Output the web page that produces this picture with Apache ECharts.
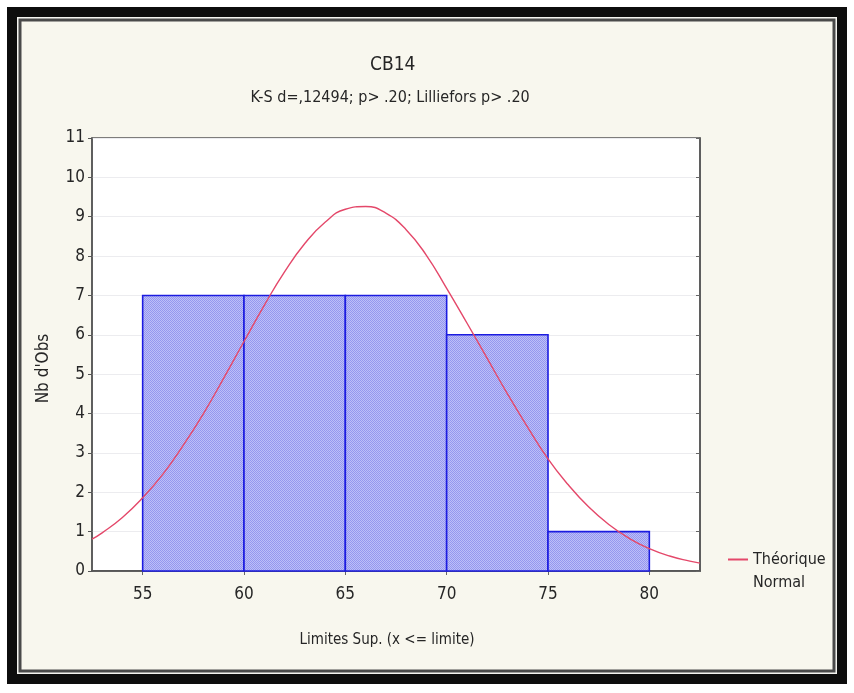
<!DOCTYPE html>
<html>
<head>
<meta charset="utf-8">
<script src="https://cdn.jsdelivr.net/npm/echarts@6/dist/echarts.min.js"></script>
<style>
  html, body { margin: 0; padding: 0; background: #ffffff; }
  #chart { width: 854px; height: 693px; }
</style>
</head>
<body>
<div id="chart"></div>
<script>
// Histogram bins (lower limit, upper limit) and observed counts
const binLower = [55, 60, 65, 70, 75];
const binUpper = [60, 65, 70, 75, 80];
const counts = [7, 7, 7, 6, 1];

// Fitted normal curve (expected count per class)
const curveX = [52.5, 53, 54, 55, 56, 57, 58, 59, 60, 61, 62, 63, 64, 65, 66, 67, 68, 69, 70, 71, 72, 73, 74, 75, 76, 77, 78, 79, 80, 81, 82, 82.5];
const curveY = [0.81, 0.97, 1.36, 1.86, 2.46, 3.19, 4.00, 4.90, 5.83, 6.75, 7.60, 8.32, 8.86, 9.19, 9.26, 9.09, 8.67, 8.02, 7.18, 6.30, 5.40, 4.50, 3.65, 2.85, 2.19, 1.63, 1.18, 0.83, 0.57, 0.38, 0.25, 0.20];

// Axis ticks
const xTicks = [55, 60, 65, 70, 75, 80];
const xMin = 52.5, xMax = 82.5;
const yMax = 11;

const FONT = "'Liberation Sans Narrow', 'DejaVu Sans Condensed', 'Liberation Sans', sans-serif";
const TEXT = '#262626';

// Fine checker fill for the bars
function makeHatch() {
  const c = document.createElement('canvas');
  c.width = 2; c.height = 2;
  const g = c.getContext('2d');
  g.fillStyle = '#bdbff8'; g.fillRect(0, 0, 2, 2);
  g.fillStyle = '#9597ef'; g.fillRect(0, 0, 1, 1); g.fillRect(1, 1, 1, 1);
  return c;
}
const hatch = makeHatch();

const barData = binLower.map((lo, i) => [lo, binUpper[i], counts[i]]);
const curveData = curveX.map((x, i) => [x, curveY[i]]);

const chart = echarts.init(document.getElementById('chart'), null, { renderer: 'canvas' });

chart.setOption({
  backgroundColor: '#ffffff',
  animation: false,
  graphic: [
    { type: 'rect', z: -10, shape: { x: 7, y: 7, width: 840, height: 677 }, style: { fill: '#0d0d0d' } },
    { type: 'rect', z: -9, shape: { x: 17, y: 17, width: 820, height: 657 }, style: { fill: '#f4f4f0' } },
    { type: 'rect', z: -8, shape: { x: 20, y: 20, width: 814, height: 651 }, style: { fill: '#f8f7ee', stroke: '#4a4a4a', lineWidth: 3 } }
  ],
  title: [
    { text: 'CB14', left: '45.4%', top: 51, textAlign: 'center',
      textStyle: { fontFamily: FONT, fontSize: 19, fontWeight: 'normal', color: TEXT } },
    { text: 'K-S d=,12494; p> .20; Lilliefors p> .20', left: '45.1%', top: 85, textAlign: 'center',
      textStyle: { fontFamily: FONT, fontSize: 16, fontWeight: 'normal', color: TEXT } }
  ],
  legend: {
    left: 728, top: 548, padding: 0, orient: 'vertical',
    itemWidth: 20, itemHeight: 46,
    data: [{
      name: 'Théorique Normal',
      icon: 'path://M0,0L0.01,0L0.01,0.01Z M0,10.5L20,10.5L20,12.5L0,12.5Z M0,46L0.01,46L0.01,45.99Z'
    }],
    formatter: () => 'Théorique\nNormal',
    textStyle: { fontFamily: FONT, fontSize: 16, color: TEXT, lineHeight: 23 }
  },
  grid: { left: 92, top: 138, right: 154, bottom: 122, show: true, backgroundColor: '#ffffff', borderColor: '#555', borderWidth: 1.5 },
  xAxis: [
    {
      type: 'value', min: xMin, max: xMax, position: 'bottom',
      name: 'Limites Sup. (x <= limite)', nameLocation: 'middle', nameGap: 62,
      nameTextStyle: { fontFamily: FONT, fontSize: 15, color: TEXT, padding: [0, 18, 0, 0] },
      axisLine: { show: true, lineStyle: { color: '#555', width: 1.5 } },
      axisTick: { show: false },
      axisLabel: { customValues: xTicks, fontFamily: FONT, fontSize: 17, color: TEXT, margin: 15 },
      splitLine: { show: false }
    },
    {
      type: 'value', min: xMin, max: xMax, position: 'top',
      axisLine: { show: true, lineStyle: { color: '#555', width: 1.5 } },
      axisTick: { show: true, inside: true, length: 4, customValues: xTicks, lineStyle: { color: '#666' } },
      axisLabel: { show: false },
      splitLine: { show: false }
    }
  ],
  yAxis: [
    {
      type: 'value', min: 0, max: yMax, interval: 1, position: 'left',
      name: "Nb d'Obs", nameLocation: 'middle', nameGap: 40, nameRotate: 90,
      nameTextStyle: { fontFamily: FONT, fontSize: 17, color: TEXT, padding: [0, 28, 0, 0] },
      axisLine: { show: true, lineStyle: { color: '#555', width: 1.5 } },
      axisTick: { show: true, length: 4, lineStyle: { color: '#555' } },
      axisLabel: { fontFamily: FONT, fontSize: 17, color: TEXT, margin: 7 },
      splitLine: { show: true, lineStyle: { color: '#ececef', width: 1 } }
    },
    {
      type: 'value', min: 0, max: yMax, interval: 1, position: 'right',
      axisLine: { show: true, lineStyle: { color: '#555', width: 1.5 } },
      axisTick: { show: true, inside: true, length: 4, lineStyle: { color: '#666' } },
      axisLabel: { show: false },
      splitLine: { show: false }
    }
  ],
  series: [
    {
      type: 'custom',
      name: 'Obs',
      xAxisIndex: 0, yAxisIndex: 0,
      data: barData,
      encode: { x: [0, 1], y: 2 },
      z: 2,
      renderItem: function (params, api) {
        const p0 = api.coord([api.value(0), api.value(2)]);
        const p1 = api.coord([api.value(1), 0]);
        return {
          type: 'rect',
          shape: { x: p0[0], y: p0[1], width: p1[0] - p0[0], height: p1[1] - p0[1] },
          style: { fill: { image: hatch, repeat: 'repeat' }, stroke: '#1c1ce0', lineWidth: 1.6 }
        };
      }
    },
    {
      type: 'line',
      name: 'Théorique Normal',
      xAxisIndex: 0, yAxisIndex: 0,
      data: curveData,
      smooth: true,
      showSymbol: false,
      z: 3,
      color: '#e4486a',
      lineStyle: { color: '#e4486a', width: 1.4 }
    }
  ]
});
</script>
</body>
</html>
